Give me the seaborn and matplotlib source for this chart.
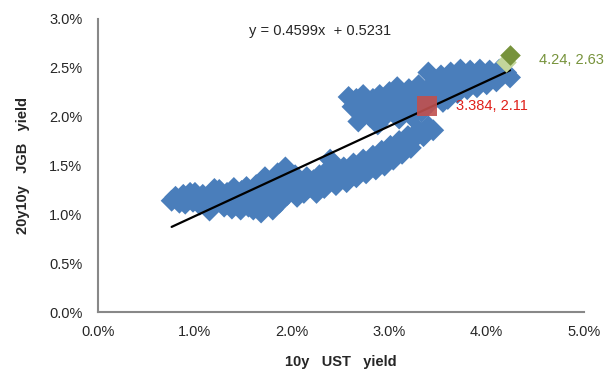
import matplotlib
matplotlib.use("Agg")
import matplotlib.pyplot as plt
from matplotlib.ticker import PercentFormatter, MultipleLocator
import pandas as pd
import seaborn as sns

# 10y UST yield (%) vs 20y10y JGB yield (%)
ust = [0.76, 0.80, 0.84, 0.88, 0.92, 0.95, 0.98, 1.02, 1.05, 1.08, 0.86, 0.90, 1.00, 0.82,
       1.12, 1.15, 1.18, 1.22, 1.25, 1.28, 1.30, 1.33, 1.36, 1.40, 1.42, 1.45, 1.48, 1.50,
       1.53, 1.55, 1.58, 1.20, 1.38, 1.47,
       1.60, 1.63, 1.65, 1.68, 1.70, 1.72, 1.75, 1.78, 1.80, 1.82, 1.85, 1.87, 1.90, 1.93,
       1.95, 1.98, 1.62, 1.76,
       2.00, 2.03, 2.05, 2.08, 2.12, 2.15, 2.18, 2.22, 2.25, 2.28, 2.30, 2.33, 2.36, 2.39,
       2.42, 2.45, 2.48,
       2.50, 2.53, 2.56, 2.60, 2.63, 2.66, 2.70, 2.73, 2.76, 2.80, 2.83, 2.86, 2.89, 2.92,
       2.95, 2.98, 3.01, 3.04, 3.07, 3.10, 3.13, 3.16, 3.19, 3.22, 3.26, 3.30, 3.35, 3.40, 3.45,
       2.58, 2.62, 2.66, 2.70, 2.73, 2.76, 2.80, 2.83, 2.86, 2.90, 2.93, 2.96, 3.00, 3.03,
       3.06, 3.10, 3.13, 3.16, 3.20, 3.23, 3.26, 3.30, 3.33, 3.36, 3.40, 3.43, 3.46, 2.68,
       2.88, 3.08,
       3.50, 3.53, 3.56, 3.60, 3.63, 3.66, 3.70, 3.73, 3.76, 3.80, 3.83, 3.86, 3.90, 3.93,
       3.96, 4.00, 4.03, 4.06, 4.10, 4.13, 4.16, 4.20, 4.24, 3.55, 3.48]
jgb = [1.14, 1.18, 1.12, 1.20, 1.16, 1.22, 1.13, 1.18, 1.10, 1.20, 1.16, 1.11, 1.22, 1.15,
       1.15, 1.04, 1.20, 1.12, 1.25, 1.16, 1.08, 1.22, 1.12, 1.27, 1.18, 1.10, 1.24, 1.15,
       1.28, 1.08, 1.20, 1.26, 1.06, 1.05,
       1.05, 1.30, 1.15, 1.02, 1.25, 1.38, 1.10, 1.32, 1.05, 1.20, 1.42, 1.12, 1.30, 1.48,
       1.20, 1.38, 1.20, 1.22,
       1.25, 1.40, 1.18, 1.32, 1.22, 1.38, 1.28, 1.35, 1.22, 1.40, 1.30, 1.27, 1.45, 1.56,
       1.35, 1.30, 1.45,
       1.38, 1.48, 1.33, 1.42, 1.52, 1.38, 1.46, 1.56, 1.42, 1.50, 1.60, 1.46, 1.55, 1.65,
       1.50, 1.60, 1.70, 1.56, 1.66, 1.75, 1.62, 1.70, 1.80, 1.68, 1.78, 1.86, 1.80, 1.90, 1.86,
       2.20, 2.10, 2.18, 2.05, 2.22, 2.12, 2.00, 2.18, 2.08, 2.22, 1.98, 2.12, 2.25, 2.05,
       2.15, 1.98, 2.22, 2.08, 2.28, 2.00, 2.18, 2.32, 2.05, 2.25, 2.45, 2.15, 2.35, 1.95,
       1.92, 2.30,
       2.20, 2.42, 2.30, 2.18, 2.45, 2.35, 2.24, 2.48, 2.38, 2.28, 2.47, 2.36, 2.30, 2.48,
       2.40, 2.33, 2.47, 2.40, 2.36, 2.48, 2.42, 2.45, 2.40, 2.15, 2.28]

# highlighted points
prev_pt = (4.20, 2.56)
last_pt = (4.24, 2.63)
mark_pt = (3.384, 2.11)

# trend line from the chart
slope = 0.4599
intercept = 0.5231

df = pd.DataFrame({"ust": ust, "jgb": jgb})

sns.set_style("white")
plt.rcParams["font.family"] = ["Liberation Sans", "DejaVu Sans"]

fig, ax = plt.subplots(figsize=(6.07, 3.74), dpi=100)
fig.subplots_adjust(left=0.161, right=0.962, bottom=0.165, top=0.95)

sns.scatterplot(data=df, x="ust", y="jgb", marker="D", s=125, color="#4A7EBB",
                edgecolor="none", linewidth=0, ax=ax, zorder=2)

x0, x1 = min(ust), max(ust)
ax.plot([x0, x1], [slope * x0 + intercept, slope * x1 + intercept],
        color="black", lw=1.6, zorder=3)

ax.scatter([mark_pt[0]], [mark_pt[1]], marker="s", s=190, color="#C0504D",
           alpha=0.9, linewidths=0, zorder=4)
ax.scatter([prev_pt[0]], [prev_pt[1]], marker="D", s=110, color="#C3D69B",
           linewidths=0, zorder=4)
ax.scatter([last_pt[0]], [last_pt[1]], marker="D", s=110, color="#77933C",
           linewidths=0, zorder=5)

ax.text(mark_pt[0] + 0.3, mark_pt[1], f"{mark_pt[0]}, {mark_pt[1]}",
        color="#E0201A", fontsize=10.5, va="center")
ax.text(last_pt[0] + 0.3, last_pt[1] - 0.05, f"{last_pt[0]}, {last_pt[1]}",
        color="#77933C", fontsize=10.5, va="center")
ax.text(2.29, 2.87, f"y = {slope}x  + {intercept}", fontsize=10.5,
        ha="center", va="center")

ax.set_xlim(0, 5)
ax.set_ylim(0, 3)
ax.xaxis.set_major_locator(MultipleLocator(1))
ax.yaxis.set_major_locator(MultipleLocator(0.5))
ax.xaxis.set_major_formatter(PercentFormatter(xmax=100, decimals=1))
ax.yaxis.set_major_formatter(PercentFormatter(xmax=100, decimals=1))
ax.tick_params(axis="x", length=0, labelsize=10.5, pad=9)
ax.tick_params(axis="y", length=0, labelsize=10.5, pad=11)

ax.set_xlabel("10y   UST   yield", fontsize=10.5, fontweight="bold", labelpad=12)
ax.set_ylabel("20y10y   JGB   yield", fontsize=10.5, fontweight="bold", labelpad=14)

sns.despine(ax=ax)
for side in ("left", "bottom"):
    ax.spines[side].set_color("#888888")
    ax.spines[side].set_linewidth(1.5)

fig.savefig("out.png", dpi=100)
